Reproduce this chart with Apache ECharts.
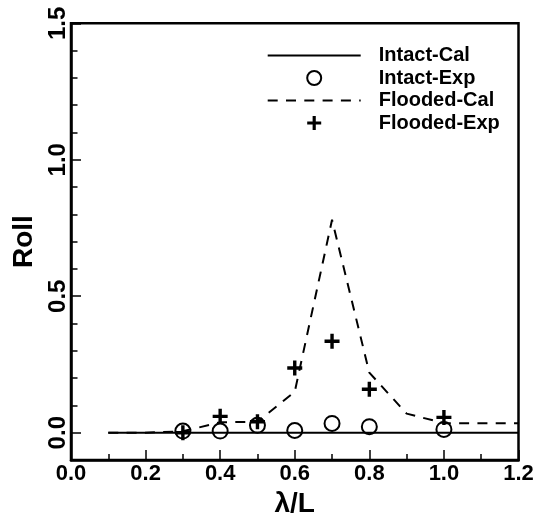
<!DOCTYPE html>
<html>
<head>
<meta charset="utf-8">
<style>
  html, body { margin: 0; padding: 0; background: #fff; }
  #chart { width: 537px; height: 523px; }
</style>
<script src="https://cdn.jsdelivr.net/npm/echarts@6/dist/echarts.min.js"></script>
</head>
<body>
<div id="chart"></div>
<script>
// Roll response vs. wave length ratio, intact and flooded conditions
const seriesNames = ['Intact-Cal', 'Intact-Exp', 'Flooded-Cal', 'Flooded-Exp'];

// calculated curves
const intactCalX = [0.1, 1.2];
const intactCalY = [0.0, 0.0];
const floodedCalX = [0.1, 0.2, 0.3, 0.4, 0.5, 0.6, 0.7, 0.8, 0.9, 1.0, 1.1, 1.2];
const floodedCalY = [0.0, 0.0, 0.005, 0.038, 0.04, 0.15, 0.78, 0.22, 0.07, 0.035, 0.035, 0.035];

// experiments
const expX = [0.3, 0.4, 0.5, 0.6, 0.7, 0.8, 1.0];
const intactExpY = [0.006, 0.006, 0.027, 0.008, 0.034, 0.022, 0.012];
const floodedExpY = [0.0, 0.06, 0.04, 0.237, 0.335, 0.159, 0.056];

// axis ticks
const xTicks = [0.0, 0.2, 0.4, 0.6, 0.8, 1.0, 1.2];
const yTicks = [0.0, 0.5, 1.0, 1.5];

const pairs = (xs, ys) => xs.map((x, i) => [x, ys[i]]);
const FONT = "'Liberation Sans', Arial, Helvetica, sans-serif";
const PLUS = 'path://M5.8,0H9.2V5.8H15V9.2H9.2V15H5.8V9.2H0V5.8H5.8Z';
const NO_MARKER = { color: 'rgba(0,0,0,0)', borderColor: 'rgba(0,0,0,0)', borderWidth: 0, opacity: 0 };

const chart = echarts.init(document.getElementById('chart'), null, { renderer: 'canvas' });

chart.setOption({
  animation: false,
  backgroundColor: '#fff',
  textStyle: { fontFamily: FONT },
  grid: {
    left: 71, right: 18.5, top: 23.3, bottom: 57,
    show: true, borderColor: '#000', borderWidth: 2.5, backgroundColor: 'transparent'
  },
  legend: {
    orient: 'vertical',
    left: 266.7, top: 45.5,
    padding: 0,
    itemWidth: 93, itemHeight: 14, itemGap: 2.5,
    data: [
      { name: seriesNames[0], itemStyle: NO_MARKER },
      { name: seriesNames[1] },
      { name: seriesNames[2], itemStyle: NO_MARKER },
      { name: seriesNames[3] }
    ],
    textStyle: {
      fontFamily: FONT, fontSize: 20, fontWeight: 'bold', color: '#000',
      lineHeight: 19, padding: [0, 0, 0, 13]
    }
  },
  xAxis: {
    type: 'value',
    min: 0, max: 1.2, interval: 0.2,
    name: 'λ/L', nameLocation: 'middle', nameGap: 30,
    nameTextStyle: { fontFamily: FONT, fontSize: 28, fontWeight: 'bold', color: '#000' },
    axisLine: { show: true, onZero: false, lineStyle: { color: '#000', width: 2.5 } },
    axisTick: { show: true, inside: true, length: 10, lineStyle: { color: '#000', width: 1.5 } },
    minorTick: { show: true, splitNumber: 2, length: 6, lineStyle: { color: '#000', width: 1.5 } },
    axisLabel: {
      fontFamily: FONT, fontSize: 22, fontWeight: 'bold', color: '#000', margin: 3,
      customValues: xTicks,
      formatter: v => v.toFixed(1)
    },
    splitLine: { show: false }
  },
  yAxis: [
    {
      type: 'value',
      min: -0.1, max: 1.5,
      name: 'Roll', nameLocation: 'middle', nameGap: 25,
      nameTextStyle: { fontFamily: FONT, fontSize: 28, fontWeight: 'bold', color: '#000' },
      axisLine: { show: true, onZero: false, lineStyle: { color: '#000', width: 2.5 } },
      axisTick: { show: true, inside: true, length: 10, customValues: yTicks, lineStyle: { color: '#000', width: 1.5 } },
      axisLabel: {
        fontFamily: FONT, fontSize: 24, fontWeight: 'bold', color: '#000', margin: 1,
        rotate: 90, customValues: yTicks,
        formatter: v => v.toFixed(1)
      },
      splitLine: { show: false }
    },
    {
      // minor ticks every 0.1
      type: 'value',
      min: -0.1, max: 1.5, interval: 0.1,
      position: 'left',
      axisLine: { show: false },
      axisTick: { show: true, inside: true, length: 6.5, lineStyle: { color: '#000', width: 1.5 } },
      axisLabel: { show: false },
      splitLine: { show: false }
    }
  ],
  series: [
    {
      name: 'Intact-Cal', type: 'line', symbol: 'none',
      data: pairs(intactCalX, intactCalY),
      lineStyle: { color: '#000', width: 2 },
      itemStyle: { color: '#000' },
      z: 2
    },
    {
      name: 'Flooded-Cal', type: 'line', symbol: 'none',
      data: pairs(floodedCalX, floodedCalY),
      lineStyle: { color: '#000', width: 2, type: [10, 8.3] },
      itemStyle: { color: '#000' },
      z: 2
    },
    {
      name: 'Intact-Exp', type: 'scatter', symbol: 'circle', symbolSize: 15,
      data: pairs(expX, intactExpY),
      itemStyle: { color: 'rgba(0,0,0,0)', borderColor: '#000', borderWidth: 2, opacity: 1 },
      z: 3
    },
    {
      name: 'Flooded-Exp', type: 'scatter', symbol: PLUS, symbolSize: 15,
      data: pairs(expX, floodedExpY),
      itemStyle: { color: '#000', opacity: 1 },
      z: 4
    }
  ]
});
</script>
</body>
</html>
